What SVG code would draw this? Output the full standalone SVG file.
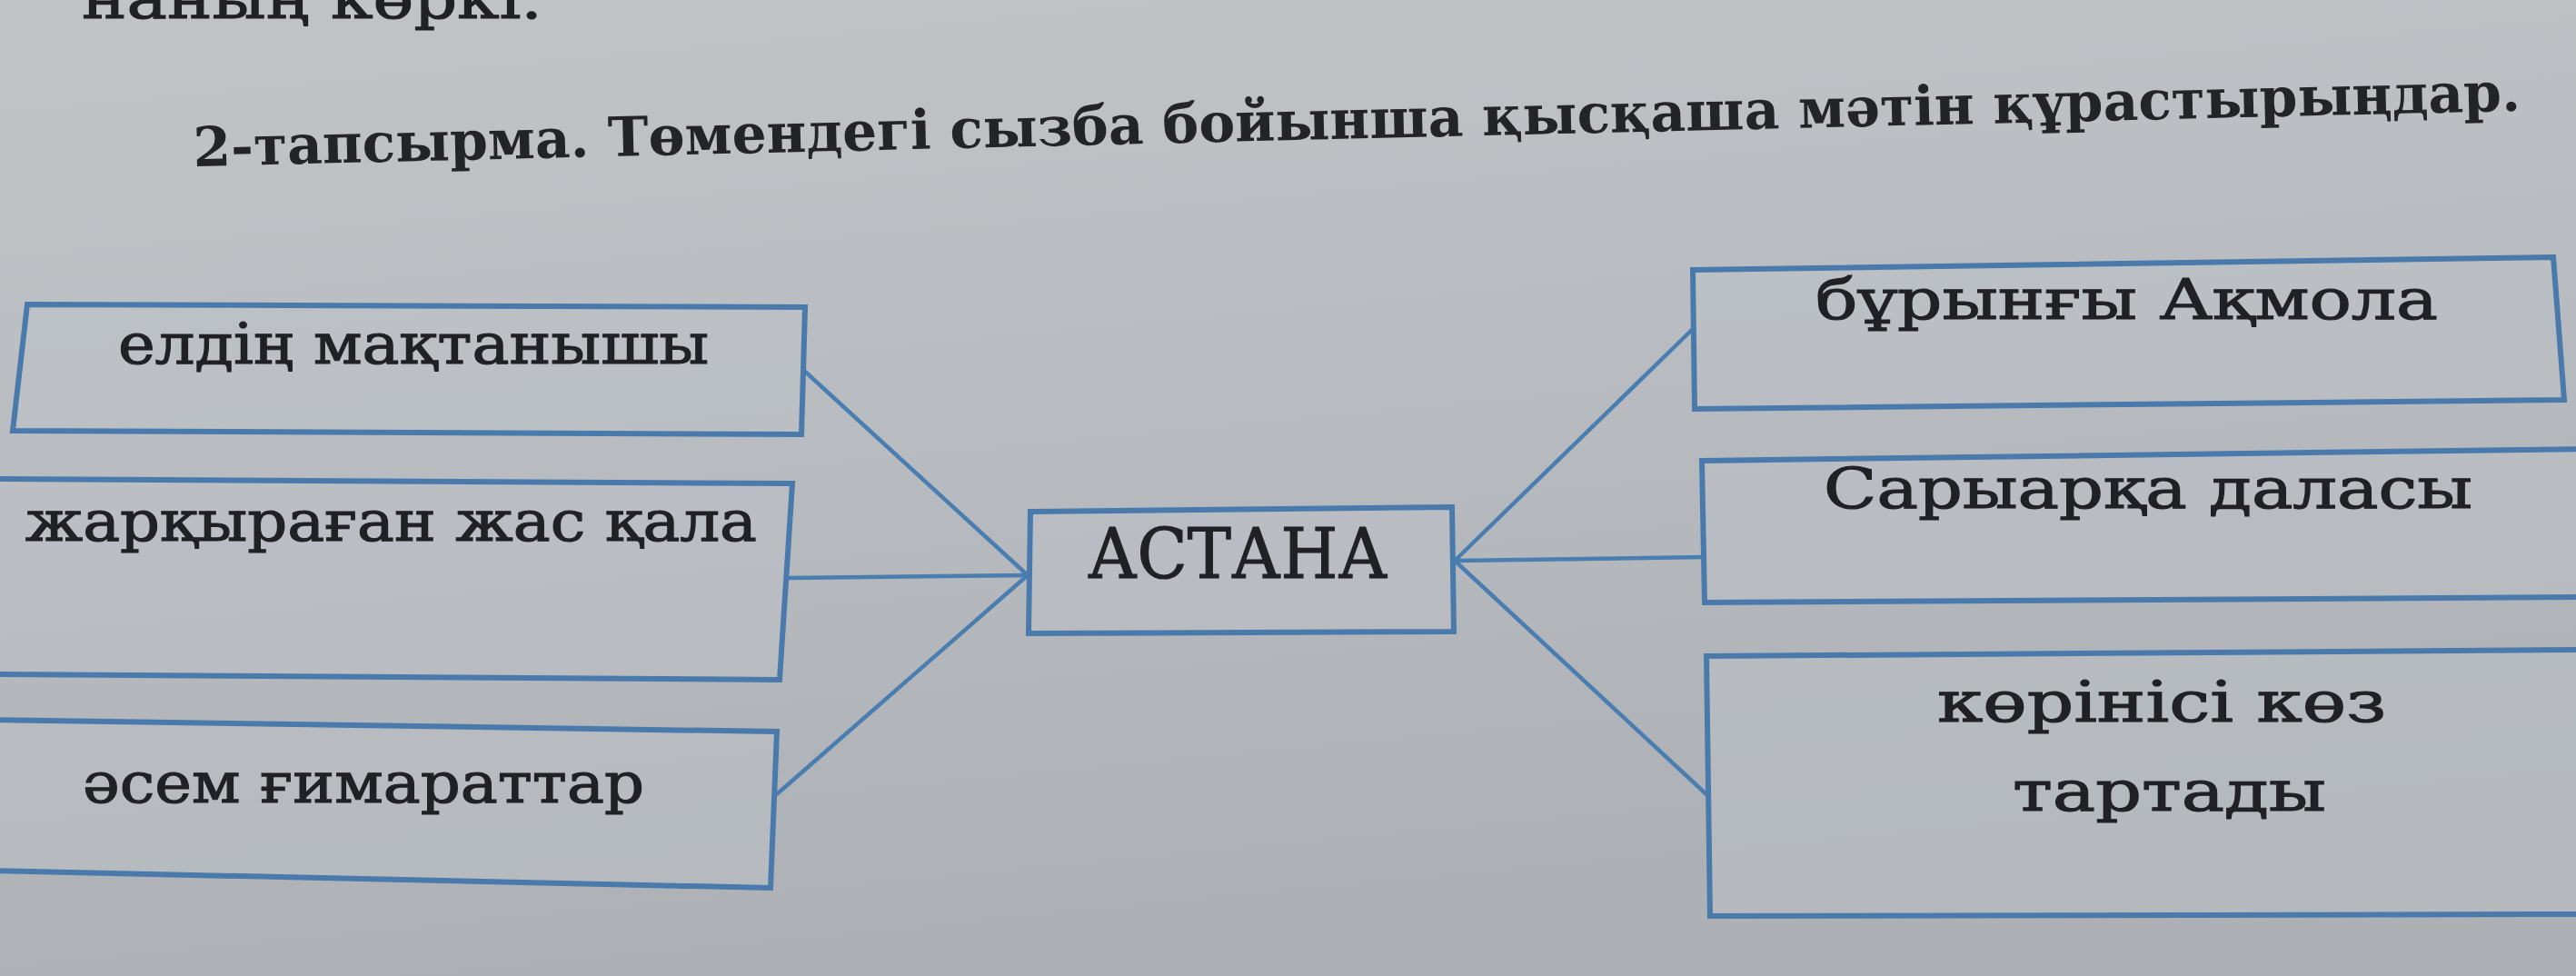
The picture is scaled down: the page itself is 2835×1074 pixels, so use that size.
<svg xmlns="http://www.w3.org/2000/svg" width="2835" height="1074" viewBox="0 0 2835 1074">
<defs>
<linearGradient id="bg" x1="0" y1="0" x2="0.25" y2="1">
<stop offset="0" stop-color="#c1c4c7"/>
<stop offset="0.5" stop-color="#b8bcc0"/>
<stop offset="1" stop-color="#adb1b5"/>
</linearGradient>
</defs>
<style>
.box{fill:#bfc4c9;fill-opacity:0.45;stroke:#4a7aab;stroke-width:6;stroke-linejoin:miter}
.lbl{font-family:"DejaVu Serif","Liberation Serif",serif;font-size:62px;fill:#202125;stroke:#202125;stroke-width:1.2}
.big{font-family:"DejaVu Serif","Liberation Serif",serif;font-size:76px;fill:#202125;stroke:#202125;stroke-width:1.2}
.title{font-family:"DejaVu Serif","Liberation Serif",serif;font-size:60px;font-weight:bold;fill:#232428}
.con{stroke:#4a7db0;stroke-width:4.5;fill:none;stroke-linecap:round}
</style>
<rect x="0" y="0" width="2835" height="1074" fill="url(#bg)"/>

<text class="lbl" x="90" y="20" textLength="507" lengthAdjust="spacingAndGlyphs">наның көркі.</text>

<text class="title" x="213" y="183" textLength="2562" lengthAdjust="spacingAndGlyphs" transform="rotate(-1.37 213 183)">2-тапсырма. Төмендегі сызба бойынша қысқаша мәтін құрастырыңдар.</text>

<g id="connectors">
<line class="con" x1="884" y1="407" x2="1131" y2="633"/>
<line class="con" x1="868" y1="636" x2="1131" y2="633"/>
<line class="con" x1="856" y1="873" x2="1131" y2="633"/>
<line class="con" x1="1601" y1="617" x2="1862" y2="363"/>
<line class="con" x1="1601" y1="617" x2="1874" y2="613"/>
<line class="con" x1="1601" y1="617" x2="1879" y2="875"/>
</g>

<g id="node-eldin">
<polygon class="box" points="30,335 886,338 882,478 14,474"/>
<text class="lbl" x="130" y="400" textLength="650" lengthAdjust="spacingAndGlyphs">елдің мақтанышы</text>
</g>

<g id="node-zharkyragan">
<polygon class="box" points="-10,527 872,532 858,748 -10,742"/>
<text class="lbl" x="28" y="595" textLength="805" lengthAdjust="spacingAndGlyphs">жарқыраған жас қала</text>
</g>

<g id="node-asem">
<polygon class="box" points="-10,792 855,805 848,977 -10,958"/>
<text class="lbl" x="91" y="883" textLength="618" lengthAdjust="spacingAndGlyphs">әсем ғимараттар</text>
</g>

<g id="node-astana">
<polygon class="box" points="1134,563 1598,558 1600,695 1132,697"/>
<text class="big" x="1197" y="636" textLength="330" lengthAdjust="spacingAndGlyphs">АСТАНА</text>
</g>

<g id="node-akmola">
<polygon class="box" points="1863,297 2810,283 2822,440 1865,450"/>
<text class="lbl" x="1998" y="351" textLength="685" lengthAdjust="spacingAndGlyphs">бұрынғы Ақмола</text>
</g>

<g id="node-saryarka">
<polygon class="box" points="1873,507 2845,494 2845,657 1876,663"/>
<text class="lbl" x="2007" y="559" textLength="714" lengthAdjust="spacingAndGlyphs">Сарыарқа даласы</text>
</g>

<g id="node-korinisi">
<polygon class="box" points="1878,722 2845,715 2845,1006 1882,1008"/>
<text class="lbl" x="2132" y="794" textLength="494" lengthAdjust="spacingAndGlyphs">көрінісі көз</text>
<text class="lbl" x="2215" y="892" textLength="345" lengthAdjust="spacingAndGlyphs">тартады</text>
</g>
</svg>
